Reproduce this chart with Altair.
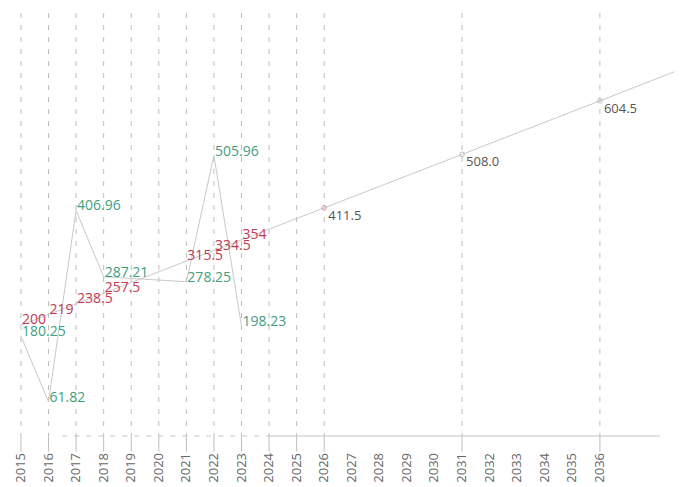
import altair as alt
import pandas as pd

# ---- data ----
actual_years = [2015, 2016, 2017, 2018, 2021, 2022, 2023]
actual_values = [180.25, 61.82, 406.96, 287.21, 278.25, 505.96, 198.23]
actual_labels = ["180.25", "61.82", "406.96", "287.21", "278.25", "505.96", "198.23"]

trend_years = [2015, 2016, 2017, 2018, 2021, 2022, 2023]
trend_values = [200, 219, 238.5, 257.5, 315.5, 334.5, 354]
trend_labels = ["200", "219", "238.5", "257.5", "315.5", "334.5", "354"]

proj_years = [2026, 2031, 2036]
proj_values = [411.5, 508.0, 604.5]
proj_labels = ["411.5", "508.0", "604.5"]
proj_kind = ["first", "other", "other"]

trend_end_year = [2038.7]
trend_end_value = [657]

grid_years = [2015, 2016, 2017, 2018, 2019, 2020, 2021, 2022, 2023, 2024, 2025, 2026, 2031, 2036]
label_years = list(range(2015, 2037))

base_dash_years = [2016.5, 2024]
base_solid_years = [2024, 2038.18]
x_domain = [2014.24, 2038.18]
y_domain = [0, 763]
grid_top = 763
tick_bottom = -28

W, H = 660, 423
FONT = "Open Sans"
GREEN = "#3f9e7e"
RED = "#c23a52"
GREY_TXT = "#555555"
LINE = "#c9c9c9"

actual_df = pd.DataFrame({"year": actual_years, "value": actual_values, "label": actual_labels})
trend_df = pd.DataFrame({"year": trend_years, "value": trend_values, "label": trend_labels})
proj_df = pd.DataFrame({"year": proj_years, "value": proj_values, "label": proj_labels, "kind": proj_kind})
trend_line_df = pd.DataFrame({
    "year": trend_years + proj_years + trend_end_year,
    "value": trend_values + proj_values + trend_end_value,
})
grid_df = pd.DataFrame({"year": grid_years,
                        "top": [grid_top] * len(grid_years),
                        "zero": [0] * len(grid_years),
                        "bot": [tick_bottom] * len(grid_years)})
base_df = pd.DataFrame({"year": [base_dash_years[0], base_solid_years[0]],
                        "year2": [base_dash_years[1], base_solid_years[1]],
                        "value": [0, 0],
                        "style": ["dash", "solid"]})
label_df = pd.DataFrame({"year": label_years, "label": [str(y) for y in label_years]})

xs = alt.Scale(domain=x_domain, nice=False, zero=False)
ys = alt.Scale(domain=y_domain, nice=False, zero=False)

Xp = alt.X("year:Q", scale=xs, axis=None)
Y = alt.Y("value:Q", scale=ys, axis=None)

grid = alt.Chart(grid_df).mark_rule(color="#bdbdbd", strokeDash=[5, 7], strokeWidth=1).encode(
    x=Xp, y=alt.Y("top:Q", scale=ys, axis=None), y2="zero:Q")
ticks = alt.Chart(grid_df).mark_rule(color="#bdbdbd", strokeWidth=1, clip=False).encode(
    x=Xp, y=alt.Y("zero:Q", scale=ys, axis=None), y2="bot:Q")

base_dash = alt.Chart(base_df).transform_filter("datum.style == 'dash'").mark_rule(
    color="#c4c4c4", strokeDash=[5, 7]).encode(x=Xp, x2="year2:Q", y=Y)
base_solid = alt.Chart(base_df).transform_filter("datum.style == 'solid'").mark_rule(
    color="#c4c4c4").encode(x=Xp, x2="year2:Q", y=Y)

actual_line = alt.Chart(actual_df).mark_line(color=LINE, strokeWidth=1).encode(x=Xp, y=Y)
trend_line = alt.Chart(trend_line_df).mark_line(color=LINE, strokeWidth=1).encode(x=Xp, y=Y)

proj_pts = alt.Chart(proj_df).mark_point(filled=False, size=22, strokeWidth=1).encode(
    x=Xp, y=Y,
    color=alt.Color("kind:N", scale=alt.Scale(domain=["first", "other"], range=["#d47a8c", "#a8a8a8"]),
                    legend=None))

actual_txt = alt.Chart(actual_df).mark_text(align="left", baseline="middle", dx=1, dy=-4,
                                            font=FONT, fontSize=14, color=GREEN).encode(
    x=Xp, y=Y, text="label:N")
trend_txt = alt.Chart(trend_df).mark_text(align="left", baseline="middle", dx=1, dy=-5,
                                          font=FONT, fontSize=14, color=RED).encode(
    x=Xp, y=Y, text="label:N")
proj_txt = alt.Chart(proj_df).mark_text(align="left", baseline="middle", dx=4, dy=8,
                                        font=FONT, fontSize=13, color=GREY_TXT).encode(
    x=Xp, y=Y, text="label:N")

axis_txt = alt.Chart(label_df).mark_text(angle=270, align="right", baseline="middle",
                                         font=FONT, fontSize=13, color="#666666").encode(
    x=Xp, y=alt.value(H + 17), text="label:N")

chart = alt.layer(
    grid, ticks, base_dash, base_solid, actual_line, trend_line, proj_pts,
    actual_txt, trend_txt, proj_txt, axis_txt
).properties(
    width=W, height=H,
    background="white",
    autosize=alt.AutoSizeParams(type="none"),
    padding={"left": 0, "top": 13, "right": 26, "bottom": 51},
).configure_view(stroke=None)

chart.save("out.html", embed_options={"renderer": "svg", "actions": False})
